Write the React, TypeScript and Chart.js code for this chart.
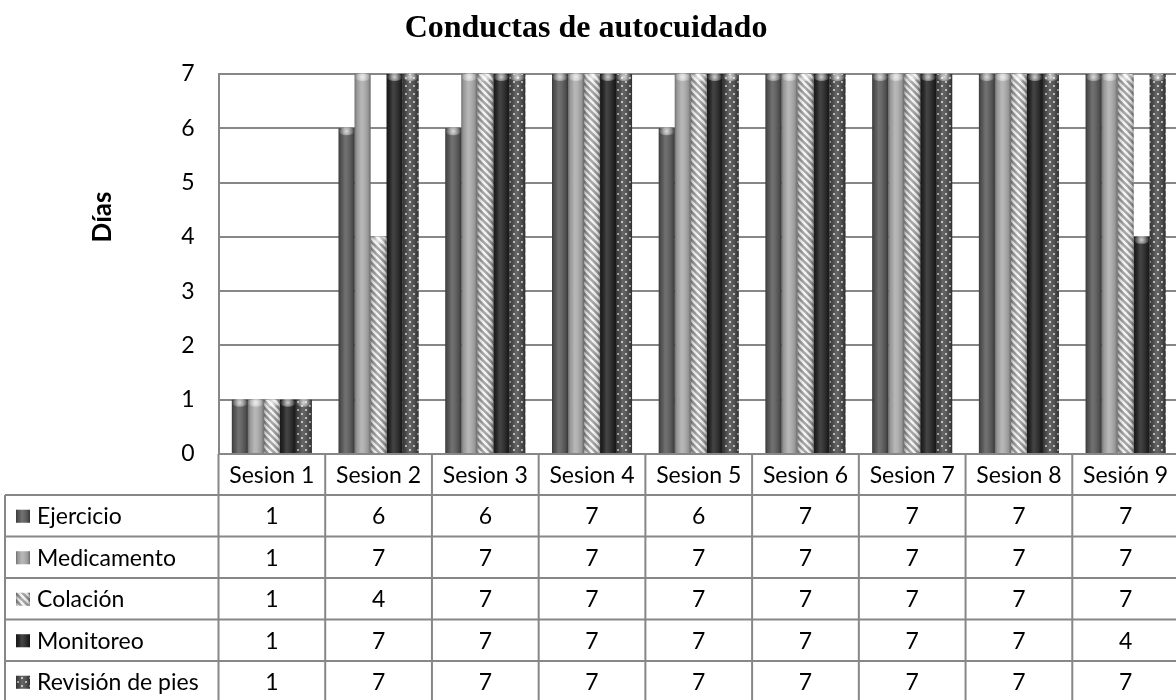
import React, { useEffect, useRef } from "react";
import { Chart, registerables } from "chart.js";

Chart.register(...registerables);

const categories = ["Sesion 1", "Sesion 2", "Sesion 3", "Sesion 4", "Sesion 5", "Sesion 6", "Sesion 7", "Sesion 8", "Sesión 9"];
const seriesNames = ["Ejercicio", "Medicamento", "Colación", "Monitoreo", "Revisión de pies"];
const ejercicio = [1, 6, 6, 7, 6, 7, 7, 7, 7];
const medicamento = [1, 7, 7, 7, 7, 7, 7, 7, 7];
const colacion = [1, 4, 7, 7, 7, 7, 7, 7, 7];
const monitoreo = [1, 7, 7, 7, 7, 7, 7, 7, 4];
const revision = [1, 7, 7, 7, 7, 7, 7, 7, 7];
const yMin = 0;
const yMax = 7;
const yStep = 1;
const chartTitle = "Conductas de autocuidado";
const yTitle = "Días";

const LINE = "#878787";
const FONT = "Lato";

function stripePattern(ctx: CanvasRenderingContext2D) {
  const c = document.createElement("canvas");
  c.width = 7;
  c.height = 7;
  const g = c.getContext("2d")!;
  g.fillStyle = "#9a9a9a";
  g.fillRect(0, 0, 7, 7);
  g.strokeStyle = "#f4f4f4";
  g.lineWidth = 2.4;
  g.beginPath();
  g.moveTo(-1, -1);
  g.lineTo(8, 8);
  g.moveTo(-5, 2);
  g.lineTo(4, 11);
  g.moveTo(2, -5);
  g.lineTo(11, 4);
  g.stroke();
  return ctx.createPattern(c, "repeat")!;
}

function dotPattern(ctx: CanvasRenderingContext2D) {
  const c = document.createElement("canvas");
  c.width = 8;
  c.height = 8;
  const g = c.getContext("2d")!;
  g.fillStyle = "#4c4c4c";
  g.fillRect(0, 0, 8, 8);
  g.fillStyle = "#e6e6e6";
  g.beginPath();
  g.arc(2, 2, 1, 0, Math.PI * 2);
  g.arc(6, 6, 1, 0, Math.PI * 2);
  g.fill();
  return ctx.createPattern(c, "repeat")!;
}

function shade(ctx: CanvasRenderingContext2D, left: number, top: number, w: number, h: number) {
  const gr = ctx.createLinearGradient(left, 0, left + w, 0);
  gr.addColorStop(0, "rgba(0,0,0,0.35)");
  gr.addColorStop(0.15, "rgba(0,0,0,0.1)");
  gr.addColorStop(0.4, "rgba(255,255,255,0.14)");
  gr.addColorStop(0.55, "rgba(255,255,255,0.1)");
  gr.addColorStop(0.85, "rgba(0,0,0,0.12)");
  gr.addColorStop(1, "rgba(0,0,0,0.4)");
  ctx.fillStyle = gr;
  ctx.fillRect(left, top, w, h);
}

const shadingPlugin = {
  id: "cylinderShade",
  afterDatasetsDraw(chart: any) {
    const ctx: CanvasRenderingContext2D = chart.ctx;
    ctx.save();
    chart.data.datasets.forEach((_: any, di: number) => {
      const meta = chart.getDatasetMeta(di);
      meta.data.forEach((el: any) => {
        const { x, y, base, width } = el.getProps(["x", "y", "base", "width"], true);
        const left = x - width / 2;
        shade(ctx, left, y, width, base - y);
        const rg = ctx.createRadialGradient(x, y + 3, 0, x, y + 3, width / 2);
        rg.addColorStop(0, "rgba(255,255,255,0.75)");
        rg.addColorStop(1, "rgba(255,255,255,0)");
        ctx.fillStyle = rg;
        ctx.beginPath();
        ctx.ellipse(x, y + 3, width / 2, 4, 0, 0, Math.PI * 2);
        ctx.fill();
      });
    });
    ctx.restore();
  },
};

const textPlugin = {
  id: "texts",
  afterDraw(chart: any) {
    const ctx: CanvasRenderingContext2D = chart.ctx;
    const area = chart.chartArea;
    const xs = chart.scales.x;
    ctx.save();
    // title
    ctx.fillStyle = "#000";
    ctx.font = "bold 32px 'Liberation Serif'";
    ctx.textAlign = "center";
    ctx.textBaseline = "alphabetic";
    ctx.fillText(chartTitle, 586, 37);
    // y title
    ctx.save();
    ctx.translate(103, 217);
    ctx.rotate(-Math.PI / 2);
    ctx.font = `bold 26px ${FONT}`;
    ctx.textBaseline = "middle";
    ctx.fillText(yTitle, 0, 0);
    ctx.restore();

    // data table
    const n = categories.length;
    const colW = (area.right - area.left) / n;
    const top = area.bottom;
    const headerH = 41;
    const rowH = 41.5;
    const tableLeft = 5;
    const rows = [ejercicio, medicamento, colacion, monitoreo, revision];
    const bottom = top + headerH + rowH * rows.length;
    ctx.strokeStyle = LINE;
    ctx.lineWidth = 2;
    ctx.beginPath();
    for (let i = 0; i <= n; i++) {
      const cx = i < n ? xs.getPixelForValue(i) - colW / 2 : xs.getPixelForValue(n - 1) + colW / 2;
      ctx.moveTo(cx, top);
      ctx.lineTo(cx, bottom);
    }
    ctx.moveTo(tableLeft, top + headerH);
    ctx.lineTo(tableLeft, bottom);
    for (let r = 0; r <= rows.length; r++) {
      const yy = top + headerH + r * rowH;
      ctx.moveTo(tableLeft, yy);
      ctx.lineTo(area.right, yy);
    }
    ctx.stroke();

    ctx.fillStyle = "#000";
    ctx.font = `23px ${FONT}`;
    ctx.textBaseline = "middle";
    ctx.textAlign = "center";
    categories.forEach((c, i) => {
      ctx.fillText(c, xs.getPixelForValue(i), top + headerH / 2 + 1);
    });
    rows.forEach((vals, r) => {
      const cy = top + headerH + r * rowH + rowH / 2 + 1;
      vals.forEach((v, i) => {
        ctx.fillText(String(v), xs.getPixelForValue(i), cy);
      });
    });
    ctx.textAlign = "left";
    rows.forEach((_, r) => {
      const cy = top + headerH + r * rowH + rowH / 2;
      const ds = chart.data.datasets[r];
      ctx.fillStyle = ds.backgroundColor;
      ctx.fillRect(16, cy - 6, 14, 13);
      shade(ctx, 16, cy - 6, 14, 13);
      ctx.fillStyle = "#000";
      ctx.fillText(seriesNames[r], 37, cy + 1);
    });
    ctx.restore();
  },
};

export default function App() {
  const ref = useRef<HTMLCanvasElement>(null);
  useEffect(() => {
    const canvas = ref.current!;
    const ctx = canvas.getContext("2d")!;
    const fills = ["#5a5a5a", "#ababab", stripePattern(ctx), "#262626", dotPattern(ctx)];
    const values = [ejercicio, medicamento, colacion, monitoreo, revision];
    const chart = new Chart(canvas, {
      type: "bar",
      data: {
        labels: categories,
        datasets: seriesNames.map((name, i) => ({
          label: name,
          data: values[i],
          backgroundColor: fills[i] as any,
          borderWidth: 0,
          barPercentage: 1,
          categoryPercentage: 0.75,
        })),
      },
      options: {
        responsive: false,
        animation: false,
        devicePixelRatio: 1,
        layout: { padding: { left: 178, right: 11, top: 74, bottom: 246 } },
        plugins: {
          legend: { display: false },
          title: { display: false },
          tooltip: { enabled: false },
        },
        scales: {
          x: { display: false },
          y: {
            min: yMin,
            max: yMax,
            afterFit: (s: any) => {
              s.width = 40.5;
            },
            ticks: {
              stepSize: yStep,
              padding: 24,
              color: "#000",
              font: { family: FONT, size: 23 },
            },
            grid: { color: LINE, lineWidth: 2, drawTicks: false },
            border: { display: true, color: LINE, width: 2 },
          },
        },
      },
      plugins: [shadingPlugin, textPlugin],
    });
    return () => chart.destroy();
  }, []);
  return (
    <div style={{ position: "absolute", left: 0, top: 0, width: 1176, height: 700, overflow: "hidden", background: "#fff" }}>
      <canvas ref={ref} width={1190} height={700} style={{ display: "block" }} />
    </div>
  );
}
